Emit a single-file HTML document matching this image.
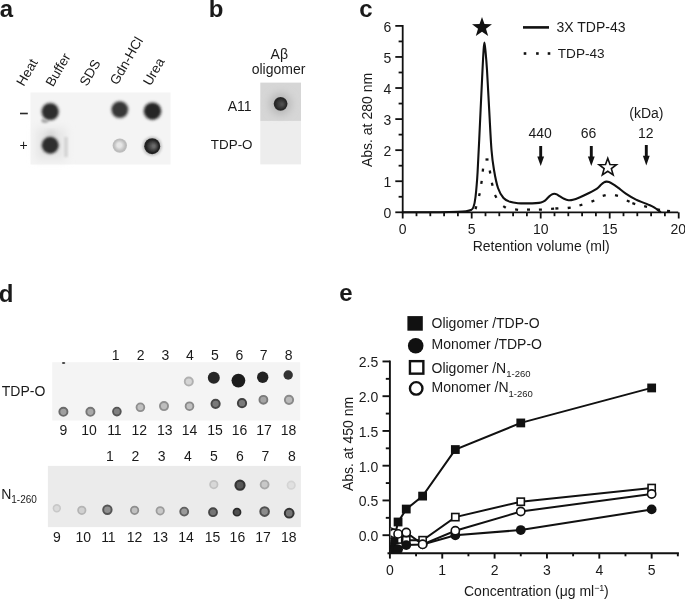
<!DOCTYPE html>
<html><head><meta charset="utf-8"><style>
html,body{margin:0;padding:0;background:#fff;width:685px;height:600px;overflow:hidden}
svg{display:block;will-change:transform}
text{font-family:"Liberation Sans",sans-serif;fill:#1a1a1a}
</style></head><body>
<svg width="685" height="600" viewBox="0 0 685 600">
<defs>
<radialGradient id="g0" cx="0.5" cy="0.5" r="0.5" fx="0.45" fy="0.45"><stop offset="0" stop-color="#e6e6e6"/><stop offset="0.3" stop-color="#e6e6e6"/><stop offset="0.8" stop-color="#bcbcbc"/><stop offset="1" stop-color="#bcbcbc"/></radialGradient>
<radialGradient id="g1" cx="0.5" cy="0.5" r="0.5" fx="0.62" fy="0.5"><stop offset="0" stop-color="#6a6a6a"/><stop offset="0.15" stop-color="#6a6a6a"/><stop offset="0.8" stop-color="#222222"/><stop offset="1" stop-color="#222222"/></radialGradient>
<radialGradient id="g2" cx="0.5" cy="0.5" r="0.5" fx="0.62" fy="0.55"><stop offset="0" stop-color="#505050"/><stop offset="0.1" stop-color="#505050"/><stop offset="0.8" stop-color="#282828"/><stop offset="1" stop-color="#282828"/></radialGradient>
<clipPath id="eclip"><rect x="390.6" y="300" width="300" height="253"/></clipPath>
<filter id="blur08" x="-50%" y="-50%" width="200%" height="200%"><feGaussianBlur stdDeviation="0.8"/></filter>
<filter id="blur06" x="-50%" y="-50%" width="200%" height="200%"><feGaussianBlur stdDeviation="0.6"/></filter>
<filter id="blur1" x="-50%" y="-50%" width="200%" height="200%"><feGaussianBlur stdDeviation="1.2"/></filter>
<filter id="blur2" x="-50%" y="-50%" width="200%" height="200%"><feGaussianBlur stdDeviation="2.5"/></filter>
<filter id="blur3" x="-50%" y="-50%" width="200%" height="200%"><feGaussianBlur stdDeviation="4"/></filter>
</defs>
<text x="-0.3" y="16.7" font-size="24" text-anchor="start" font-weight="bold" >a</text>
<text x="208.8" y="16.7" font-size="24" text-anchor="start" font-weight="bold" >b</text>
<text x="359.3" y="16.7" font-size="24" text-anchor="start" font-weight="bold" >c</text>
<text x="-1.2" y="301.8" font-size="24" text-anchor="start" font-weight="bold" >d</text>
<text x="339.3" y="301.4" font-size="24" text-anchor="start" font-weight="bold" >e</text>
<text x="0" y="0" font-size="13.5" transform="translate(23.8,87.0) rotate(-60)">Heat</text>
<text x="0" y="0" font-size="13.5" transform="translate(53.1,87.6) rotate(-60)">Buffer</text>
<text x="0" y="0" font-size="13.5" transform="translate(87.1,87.0) rotate(-60)">SDS</text>
<text x="0" y="0" font-size="13.5" transform="translate(117.2,85.8) rotate(-60)">Gdn-HCl</text>
<text x="0" y="0" font-size="13.5" transform="translate(150.4,86.6) rotate(-60)">Urea</text>
<rect x="30.5" y="92.5" width="140" height="72" fill="#f4f4f4"/>
<rect x="36" y="128" width="30" height="32" fill="#e6e6e6" filter="url(#blur3)"/>
<ellipse cx="45" cy="120.5" rx="3.6" ry="2.6" fill="#a8a8a8" filter="url(#blur1)"/>
<ellipse cx="51" cy="134" rx="5" ry="3" fill="#d4d4d4" filter="url(#blur2)"/>
<rect x="64.5" y="137" width="3" height="20" fill="#d0d0d0" filter="url(#blur1)"/>
<circle cx="50.2" cy="111.6" r="10.0" fill="#c4c4c4" filter="url(#blur1)"/>
<circle cx="50.2" cy="145.2" r="10.0" fill="#c4c4c4" filter="url(#blur1)"/>
<circle cx="119.8" cy="109.6" r="9.700000000000001" fill="#c4c4c4" filter="url(#blur1)"/>
<circle cx="152.5" cy="111.2" r="10.100000000000001" fill="#c4c4c4" filter="url(#blur1)"/>
<circle cx="152.2" cy="146.2" r="9.8" fill="#c4c4c4" filter="url(#blur1)"/>
<circle cx="50.2" cy="111.6" r="8.2" fill="#2e2e2e" filter="url(#blur08)"/>
<circle cx="50.2" cy="145.2" r="8.2" fill="#2e2e2e" filter="url(#blur08)"/>
<circle cx="119.8" cy="109.6" r="7.9" fill="#383838" filter="url(#blur08)"/>
<circle cx="152.5" cy="111.2" r="8.3" fill="#262626" filter="url(#blur08)"/>
<circle cx="119.8" cy="145.6" r="7.2" fill="url(#g0)" filter="url(#blur06)"/>
<circle cx="152.2" cy="146.2" r="8.0" fill="url(#g1)" filter="url(#blur06)"/>
<rect x="20" y="112.7" width="7.8" height="1.6" fill="#2a2a2a"/>
<text x="19.5" y="150" font-size="14" text-anchor="start" font-weight="normal" >+</text>
<text x="279.3" y="58.5" font-size="14" text-anchor="middle" font-weight="normal" >Aβ</text>
<text x="278.5" y="74" font-size="14" text-anchor="middle" font-weight="normal" >oligomer</text>
<rect x="260.3" y="82.6" width="40.7" height="38.5" fill="#d6d6d6"/>
<rect x="260.3" y="120.9" width="40.7" height="43.5" fill="#ededed"/>
<circle cx="280.5" cy="103.8" r="10.5" fill="#b4b4b4" filter="url(#blur3)"/>
<circle cx="280.6" cy="103.8" r="6.9" fill="url(#g2)" filter="url(#blur06)"/>
<text x="251.5" y="111" font-size="14" text-anchor="end" font-weight="normal" >A11</text>
<text x="252.5" y="148.6" font-size="13.4" text-anchor="end" font-weight="normal" >TDP-O</text>
<g stroke="#111" stroke-width="1.8" fill="none">
<line x1="402.7" y1="24.979999999999997" x2="402.7" y2="213.20000000000002"/>
<line x1="401.8" y1="212.3" x2="678.2199999999999" y2="212.3"/>
<line x1="395.3" y1="212.30" x2="402.7" y2="212.30"/>
<line x1="398.6" y1="196.77" x2="402.7" y2="196.77"/>
<line x1="395.3" y1="181.23" x2="402.7" y2="181.23"/>
<line x1="398.6" y1="165.69" x2="402.7" y2="165.69"/>
<line x1="395.3" y1="150.16" x2="402.7" y2="150.16"/>
<line x1="398.6" y1="134.62" x2="402.7" y2="134.62"/>
<line x1="395.3" y1="119.09" x2="402.7" y2="119.09"/>
<line x1="398.6" y1="103.56" x2="402.7" y2="103.56"/>
<line x1="395.3" y1="88.02" x2="402.7" y2="88.02"/>
<line x1="398.6" y1="72.49" x2="402.7" y2="72.49"/>
<line x1="395.3" y1="56.95" x2="402.7" y2="56.95"/>
<line x1="398.6" y1="41.42" x2="402.7" y2="41.42"/>
<line x1="395.3" y1="25.88" x2="402.7" y2="25.88"/>
<line x1="402.70" y1="212.3" x2="402.70" y2="218.5"/>
<line x1="416.50" y1="212.3" x2="416.50" y2="216.2"/>
<line x1="430.30" y1="212.3" x2="430.30" y2="216.2"/>
<line x1="444.10" y1="212.3" x2="444.10" y2="216.2"/>
<line x1="457.90" y1="212.3" x2="457.90" y2="216.2"/>
<line x1="471.70" y1="212.3" x2="471.70" y2="218.5"/>
<line x1="485.50" y1="212.3" x2="485.50" y2="216.2"/>
<line x1="499.30" y1="212.3" x2="499.30" y2="216.2"/>
<line x1="513.10" y1="212.3" x2="513.10" y2="216.2"/>
<line x1="526.90" y1="212.3" x2="526.90" y2="216.2"/>
<line x1="540.70" y1="212.3" x2="540.70" y2="218.5"/>
<line x1="554.50" y1="212.3" x2="554.50" y2="216.2"/>
<line x1="568.30" y1="212.3" x2="568.30" y2="216.2"/>
<line x1="582.10" y1="212.3" x2="582.10" y2="216.2"/>
<line x1="595.90" y1="212.3" x2="595.90" y2="216.2"/>
<line x1="609.70" y1="212.3" x2="609.70" y2="218.5"/>
<line x1="623.50" y1="212.3" x2="623.50" y2="216.2"/>
<line x1="637.30" y1="212.3" x2="637.30" y2="216.2"/>
<line x1="651.10" y1="212.3" x2="651.10" y2="216.2"/>
<line x1="664.90" y1="212.3" x2="664.90" y2="216.2"/>
<line x1="678.70" y1="212.3" x2="678.70" y2="218.5"/>
</g>
<text x="391.3" y="218.1" font-size="14" text-anchor="end" font-weight="normal" >0</text>
<text x="391.3" y="187.03" font-size="14" text-anchor="end" font-weight="normal" >1</text>
<text x="391.3" y="155.96" font-size="14" text-anchor="end" font-weight="normal" >2</text>
<text x="391.3" y="124.89" font-size="14" text-anchor="end" font-weight="normal" >3</text>
<text x="391.3" y="93.82" font-size="14" text-anchor="end" font-weight="normal" >4</text>
<text x="391.3" y="62.75" font-size="14" text-anchor="end" font-weight="normal" >5</text>
<text x="391.3" y="31.68" font-size="14" text-anchor="end" font-weight="normal" >6</text>
<text x="402.7" y="234" font-size="14" text-anchor="middle" font-weight="normal" >0</text>
<text x="471.7" y="234" font-size="14" text-anchor="middle" font-weight="normal" >5</text>
<text x="540.7" y="234" font-size="14" text-anchor="middle" font-weight="normal" >10</text>
<text x="609.7" y="234" font-size="14" text-anchor="middle" font-weight="normal" >15</text>
<text x="678.2" y="234" font-size="14" text-anchor="middle" font-weight="normal" >20</text>
<text x="541.2" y="251" font-size="14" text-anchor="middle" font-weight="normal" >Retention volume (ml)</text>
<text x="0" y="0" font-size="14" text-anchor="middle" transform="translate(372,120) rotate(-90)">Abs. at 280 nm</text>
<path d="M402.70,212.30 C408.92,212.28 430.87,212.28 440.00,212.20 C449.13,212.12 453.17,211.97 457.50,211.80 C461.83,211.63 463.75,211.50 466.00,211.20 C468.25,210.90 469.75,210.70 471.00,210.00 C472.25,209.30 472.75,209.17 473.50,207.00 C474.25,204.83 474.82,202.83 475.50,197.00 C476.18,191.17 476.75,186.50 477.60,172.00 C478.45,157.50 479.78,127.00 480.60,110.00 C481.42,93.00 482.00,80.00 482.50,70.00 C483.00,60.00 483.28,54.57 483.60,50.00 C483.92,45.43 484.10,42.60 484.40,42.60 C484.70,42.60 484.97,45.43 485.40,50.00 C485.83,54.57 486.37,60.00 487.00,70.00 C487.63,80.00 488.45,96.67 489.20,110.00 C489.95,123.33 490.70,140.00 491.50,150.00 C492.30,160.00 492.92,163.67 494.00,170.00 C495.08,176.33 496.42,183.33 498.00,188.00 C499.58,192.67 501.50,195.70 503.50,198.00 C505.50,200.30 507.58,200.93 510.00,201.80 C512.42,202.67 515.07,202.93 518.00,203.20 C520.93,203.47 524.60,203.42 527.60,203.40 C530.60,203.38 533.77,203.27 536.00,203.10 C538.23,202.93 539.50,202.82 541.00,202.40 C542.50,201.98 543.67,201.57 545.00,200.60 C546.33,199.63 547.83,197.63 549.00,196.60 C550.17,195.57 551.12,194.87 552.00,194.40 C552.88,193.93 553.50,193.80 554.30,193.80 C555.10,193.80 555.85,193.97 556.80,194.40 C557.75,194.83 558.80,195.67 560.00,196.40 C561.20,197.13 562.58,198.17 564.00,198.80 C565.42,199.43 567.00,200.03 568.50,200.20 C570.00,200.37 571.08,200.30 573.00,199.80 C574.92,199.30 577.33,198.33 580.00,197.20 C582.67,196.07 586.17,194.43 589.00,193.00 C591.83,191.57 595.00,189.97 597.00,188.60 C599.00,187.23 599.83,185.83 601.00,184.80 C602.17,183.77 603.10,182.93 604.00,182.40 C604.90,181.87 605.57,181.67 606.40,181.60 C607.23,181.53 607.98,181.63 609.00,182.00 C610.02,182.37 611.00,182.87 612.50,183.80 C614.00,184.73 615.78,185.97 618.00,187.60 C620.22,189.23 622.80,191.60 625.80,193.60 C628.80,195.60 632.25,197.77 636.00,199.60 C639.75,201.43 645.22,203.27 648.30,204.60 C651.38,205.93 652.42,206.32 654.50,207.60 C656.58,208.88 659.75,211.52 660.80,212.30" stroke="#111" stroke-width="2.1" fill="none"/>
<line x1="475.51" y1="209.15" x2="476.29" y2="206.25" stroke="#111" stroke-width="2.3"/>
<line x1="479.08" y1="196.06" x2="479.72" y2="193.14" stroke="#111" stroke-width="2.3"/>
<line x1="481.29" y1="183.88" x2="481.71" y2="180.92" stroke="#111" stroke-width="2.3"/>
<line x1="482.74" y1="171.59" x2="483.06" y2="168.61" stroke="#111" stroke-width="2.3"/>
<line x1="485.50" y1="159.50" x2="488.50" y2="159.50" stroke="#111" stroke-width="2.3"/>
<line x1="489.75" y1="170.52" x2="490.25" y2="173.48" stroke="#111" stroke-width="2.3"/>
<line x1="491.86" y1="182.74" x2="492.54" y2="185.66" stroke="#111" stroke-width="2.3"/>
<line x1="494.99" y1="195.08" x2="496.41" y2="197.72" stroke="#111" stroke-width="2.3"/>
<line x1="503.23" y1="206.10" x2="505.77" y2="207.70" stroke="#111" stroke-width="2.3"/>
<line x1="515.11" y1="209.43" x2="518.09" y2="209.77" stroke="#111" stroke-width="2.3"/>
<line x1="527.00" y1="209.60" x2="530.00" y2="209.60" stroke="#111" stroke-width="2.3"/>
<line x1="538.90" y1="209.65" x2="541.90" y2="209.55" stroke="#111" stroke-width="2.3"/>
<line x1="551.10" y1="208.91" x2="554.10" y2="208.69" stroke="#111" stroke-width="2.3"/>
<line x1="555.40" y1="208.49" x2="558.40" y2="208.31" stroke="#111" stroke-width="2.3"/>
<line x1="567.71" y1="208.00" x2="570.69" y2="207.60" stroke="#111" stroke-width="2.3"/>
<line x1="579.46" y1="205.51" x2="582.34" y2="204.69" stroke="#111" stroke-width="2.3"/>
<line x1="591.51" y1="201.67" x2="594.29" y2="200.53" stroke="#111" stroke-width="2.3"/>
<line x1="602.74" y1="195.85" x2="605.66" y2="195.15" stroke="#111" stroke-width="2.3"/>
<line x1="615.04" y1="195.16" x2="617.96" y2="195.84" stroke="#111" stroke-width="2.3"/>
<line x1="626.84" y1="200.46" x2="629.56" y2="201.74" stroke="#111" stroke-width="2.3"/>
<line x1="632.37" y1="203.16" x2="635.23" y2="204.04" stroke="#111" stroke-width="2.3"/>
<line x1="644.14" y1="206.14" x2="647.06" y2="206.86" stroke="#111" stroke-width="2.3"/>
<line x1="657.03" y1="209.41" x2="659.97" y2="209.99" stroke="#111" stroke-width="2.3"/>
<line x1="667.01" y1="210.81" x2="669.99" y2="211.19" stroke="#111" stroke-width="2.3"/>
<line x1="523" y1="27.4" x2="549" y2="27.4" stroke="#111" stroke-width="2.6"/>
<rect x="523.7" y="52.2" width="2.6" height="2.6" fill="#111"/>
<rect x="536.1" y="52.2" width="2.6" height="2.6" fill="#111"/>
<rect x="547.7" y="52.2" width="2.6" height="2.6" fill="#111"/>
<text x="556.5" y="31.5" font-size="14" text-anchor="start" font-weight="normal" >3X TDP-43</text>
<text x="557.8" y="57.5" font-size="13.6" text-anchor="start" font-weight="normal" >TDP-43</text>
<polygon points="482.00,17.00 484.47,24.10 491.99,24.26 485.99,28.80 488.17,35.99 482.00,31.70 475.83,35.99 478.01,28.80 472.01,24.26 479.53,24.10" fill="#111" />
<polygon points="607.75,158.30 609.98,164.43 616.50,164.66 611.36,168.67 613.16,174.94 607.75,171.30 602.34,174.94 604.14,168.67 599.00,164.66 605.52,164.43" fill="#fff" stroke="#111" stroke-width="1.6" stroke-linejoin="miter"/>
<rect x="539.25" y="146" width="2.9" height="12" fill="#111"/>
<polygon points="537.3000000000001,156.4 544.1,156.4 540.7,166" fill="#111"/>
<rect x="589.8499999999999" y="146" width="2.9" height="12" fill="#111"/>
<polygon points="587.9,156.4 594.6999999999999,156.4 591.3,166" fill="#111"/>
<rect x="644.8499999999999" y="145" width="2.9" height="12.400000000000006" fill="#111"/>
<polygon points="642.9,155.8 649.6999999999999,155.8 646.3,165.4" fill="#111"/>
<text x="540.2" y="137.5" font-size="14" text-anchor="middle" font-weight="normal" >440</text>
<text x="588.6" y="137.5" font-size="14" text-anchor="middle" font-weight="normal" >66</text>
<text x="645.8" y="137.5" font-size="14" text-anchor="middle" font-weight="normal" >12</text>
<text x="646.4" y="118.2" font-size="14" text-anchor="middle" font-weight="normal" >(kDa)</text>
<rect x="52.2" y="362.2" width="248" height="58.3" fill="#f4f4f4"/>
<text x="45.3" y="396.3" font-size="14" text-anchor="end" font-weight="normal" >TDP-O</text>
<text x="115.6" y="359.5" font-size="14" text-anchor="middle" font-weight="normal" >1</text>
<text x="140.6" y="359.5" font-size="14" text-anchor="middle" font-weight="normal" >2</text>
<text x="165.5" y="359.5" font-size="14" text-anchor="middle" font-weight="normal" >3</text>
<text x="190" y="359.5" font-size="14" text-anchor="middle" font-weight="normal" >4</text>
<text x="215" y="359.5" font-size="14" text-anchor="middle" font-weight="normal" >5</text>
<text x="239.5" y="359.5" font-size="14" text-anchor="middle" font-weight="normal" >6</text>
<text x="263.6" y="359.5" font-size="14" text-anchor="middle" font-weight="normal" >7</text>
<text x="288.6" y="359.5" font-size="14" text-anchor="middle" font-weight="normal" >8</text>
<text x="63.3" y="435" font-size="14" text-anchor="middle" font-weight="normal" >9</text>
<text x="89" y="435" font-size="14" text-anchor="middle" font-weight="normal" >10</text>
<text x="114.4" y="435" font-size="14" text-anchor="middle" font-weight="normal" >11</text>
<text x="139.3" y="435" font-size="14" text-anchor="middle" font-weight="normal" >12</text>
<text x="164.7" y="435" font-size="14" text-anchor="middle" font-weight="normal" >13</text>
<text x="189.6" y="435" font-size="14" text-anchor="middle" font-weight="normal" >14</text>
<text x="215" y="435" font-size="14" text-anchor="middle" font-weight="normal" >15</text>
<text x="239.5" y="435" font-size="14" text-anchor="middle" font-weight="normal" >16</text>
<text x="264" y="435" font-size="14" text-anchor="middle" font-weight="normal" >17</text>
<text x="288.6" y="435" font-size="14" text-anchor="middle" font-weight="normal" >18</text>
<circle cx="188.8" cy="381.5" r="4.05" fill="#d4d4d4" stroke="#b0b0b0" stroke-width="1.90" filter="url(#blur06)"/>
<ellipse cx="63.6" cy="363" rx="1.7" ry="0.9" fill="#444"/>
<circle cx="213.8" cy="377.7" r="6.0" fill="#262626" filter="url(#blur06)"/>
<circle cx="238.4" cy="380.6" r="6.9" fill="#1c1c1c" filter="url(#blur06)"/>
<circle cx="262.7" cy="377.3" r="5.7" fill="#242424" filter="url(#blur06)"/>
<circle cx="288.2" cy="375" r="4.7" fill="#333" filter="url(#blur06)"/>
<circle cx="63.4" cy="411.8" r="4.05" fill="#a0a0a0" stroke="#6a6a6a" stroke-width="1.90" filter="url(#blur06)"/>
<circle cx="90.4" cy="411.8" r="4.05" fill="#a8a8a8" stroke="#767676" stroke-width="1.90" filter="url(#blur06)"/>
<circle cx="116.9" cy="411.6" r="3.89" fill="#808080" stroke="#555555" stroke-width="1.82" filter="url(#blur06)"/>
<circle cx="140.4" cy="407.3" r="3.89" fill="#c0c0c0" stroke="#8e8e8e" stroke-width="1.82" filter="url(#blur06)"/>
<circle cx="164" cy="406.1" r="4.05" fill="#bebebe" stroke="#909090" stroke-width="1.90" filter="url(#blur06)"/>
<circle cx="189.5" cy="406.2" r="3.89" fill="#c0c0c0" stroke="#8a8a8a" stroke-width="1.82" filter="url(#blur06)"/>
<circle cx="215.6" cy="403.8" r="4.13" fill="#7a7a7a" stroke="#4a4a4a" stroke-width="1.94" filter="url(#blur06)"/>
<circle cx="242" cy="403.2" r="4.13" fill="#7a7a7a" stroke="#404040" stroke-width="1.94" filter="url(#blur06)"/>
<circle cx="263.4" cy="399.8" r="3.97" fill="#a4a4a4" stroke="#7a7a7a" stroke-width="1.86" filter="url(#blur06)"/>
<circle cx="289" cy="399.8" r="4.13" fill="#bababa" stroke="#8a8a8a" stroke-width="1.94" filter="url(#blur06)"/>
<rect x="47.9" y="465.9" width="253" height="61.2" fill="#ebebeb"/>
<text x="1.2" y="498.6" font-size="14">N<tspan font-size="10" dy="4.5">1-260</tspan></text>
<text x="109.8" y="461" font-size="14" text-anchor="middle" font-weight="normal" >1</text>
<text x="135.5" y="461" font-size="14" text-anchor="middle" font-weight="normal" >2</text>
<text x="161.7" y="461" font-size="14" text-anchor="middle" font-weight="normal" >3</text>
<text x="187.9" y="461" font-size="14" text-anchor="middle" font-weight="normal" >4</text>
<text x="214" y="461" font-size="14" text-anchor="middle" font-weight="normal" >5</text>
<text x="240" y="461" font-size="14" text-anchor="middle" font-weight="normal" >6</text>
<text x="265.4" y="461" font-size="14" text-anchor="middle" font-weight="normal" >7</text>
<text x="292" y="461" font-size="14" text-anchor="middle" font-weight="normal" >8</text>
<text x="57" y="542" font-size="14" text-anchor="middle" font-weight="normal" >9</text>
<text x="83.2" y="542" font-size="14" text-anchor="middle" font-weight="normal" >10</text>
<text x="108.4" y="542" font-size="14" text-anchor="middle" font-weight="normal" >11</text>
<text x="134.6" y="542" font-size="14" text-anchor="middle" font-weight="normal" >12</text>
<text x="160.3" y="542" font-size="14" text-anchor="middle" font-weight="normal" >13</text>
<text x="186" y="542" font-size="14" text-anchor="middle" font-weight="normal" >14</text>
<text x="212.6" y="542" font-size="14" text-anchor="middle" font-weight="normal" >15</text>
<text x="237.4" y="542" font-size="14" text-anchor="middle" font-weight="normal" >16</text>
<text x="263" y="542" font-size="14" text-anchor="middle" font-weight="normal" >17</text>
<text x="288.8" y="542" font-size="14" text-anchor="middle" font-weight="normal" >18</text>
<circle cx="213.8" cy="484.6" r="3.73" fill="#d8d8d8" stroke="#c2c2c2" stroke-width="1.75" filter="url(#blur06)"/>
<circle cx="240" cy="485.2" r="4.54" fill="#585858" stroke="#343434" stroke-width="2.13" filter="url(#blur06)"/>
<circle cx="264.6" cy="484.6" r="3.97" fill="#c8c8c8" stroke="#a8a8a8" stroke-width="1.86" filter="url(#blur06)"/>
<circle cx="291.2" cy="485.2" r="3.73" fill="#e0e0e0" stroke="#d4d4d4" stroke-width="1.75" filter="url(#blur06)"/>
<circle cx="56.8" cy="508.3" r="3.40" fill="#dadada" stroke="#c8c8c8" stroke-width="1.60" filter="url(#blur06)"/>
<circle cx="81.8" cy="510.3" r="3.73" fill="#d0d0d0" stroke="#b4b4b4" stroke-width="1.75" filter="url(#blur06)"/>
<circle cx="107.4" cy="509.7" r="4.21" fill="#909090" stroke="#555555" stroke-width="1.98" filter="url(#blur06)"/>
<circle cx="134.6" cy="510.3" r="3.73" fill="#c0c0c0" stroke="#8e8e8e" stroke-width="1.75" filter="url(#blur06)"/>
<circle cx="160.2" cy="510.8" r="3.73" fill="#c8c8c8" stroke="#9c9c9c" stroke-width="1.75" filter="url(#blur06)"/>
<circle cx="184.2" cy="511.6" r="3.97" fill="#9a9a9a" stroke="#606060" stroke-width="1.86" filter="url(#blur06)"/>
<circle cx="213" cy="512.2" r="3.97" fill="#747474" stroke="#444444" stroke-width="1.86" filter="url(#blur06)"/>
<circle cx="237" cy="512.2" r="3.56" fill="#505050" stroke="#2c2c2c" stroke-width="1.67" filter="url(#blur06)"/>
<circle cx="264.6" cy="511.6" r="4.29" fill="#8c8c8c" stroke="#505050" stroke-width="2.01" filter="url(#blur06)"/>
<circle cx="289.2" cy="513.2" r="4.37" fill="#747474" stroke="#343434" stroke-width="2.05" filter="url(#blur06)"/>
<g stroke="#111" stroke-width="1.9" fill="none">
<line x1="389.9" y1="360.55000000000007" x2="389.9" y2="553.3"/>
<line x1="387.5" y1="553.3" x2="678.9" y2="553.3"/>
<line x1="382.5" y1="535.20" x2="389.9" y2="535.20"/>
<line x1="385.8" y1="517.83" x2="389.9" y2="517.83"/>
<line x1="382.5" y1="500.45" x2="389.9" y2="500.45"/>
<line x1="385.8" y1="483.08" x2="389.9" y2="483.08"/>
<line x1="382.5" y1="465.70" x2="389.9" y2="465.70"/>
<line x1="385.8" y1="448.33" x2="389.9" y2="448.33"/>
<line x1="382.5" y1="430.95" x2="389.9" y2="430.95"/>
<line x1="385.8" y1="413.58" x2="389.9" y2="413.58"/>
<line x1="382.5" y1="396.20" x2="389.9" y2="396.20"/>
<line x1="385.8" y1="378.83" x2="389.9" y2="378.83"/>
<line x1="382.5" y1="361.45" x2="389.9" y2="361.45"/>
<line x1="389.90" y1="553.3" x2="389.90" y2="558.6"/>
<line x1="416.07" y1="553.3" x2="416.07" y2="556.3"/>
<line x1="442.25" y1="553.3" x2="442.25" y2="558.6"/>
<line x1="468.42" y1="553.3" x2="468.42" y2="556.3"/>
<line x1="494.60" y1="553.3" x2="494.60" y2="558.6"/>
<line x1="520.77" y1="553.3" x2="520.77" y2="556.3"/>
<line x1="546.95" y1="553.3" x2="546.95" y2="558.6"/>
<line x1="573.12" y1="553.3" x2="573.12" y2="556.3"/>
<line x1="599.30" y1="553.3" x2="599.30" y2="558.6"/>
<line x1="625.48" y1="553.3" x2="625.48" y2="556.3"/>
<line x1="651.65" y1="553.3" x2="651.65" y2="558.6"/>
<line x1="677.83" y1="553.3" x2="677.83" y2="556.3"/>
</g>
<text x="378.3" y="541.1" font-size="14" text-anchor="end" font-weight="normal" >0.0</text>
<text x="378.3" y="506.35" font-size="14" text-anchor="end" font-weight="normal" >0.5</text>
<text x="378.3" y="471.6" font-size="14" text-anchor="end" font-weight="normal" >1.0</text>
<text x="378.3" y="436.85" font-size="14" text-anchor="end" font-weight="normal" >1.5</text>
<text x="378.3" y="402.1" font-size="14" text-anchor="end" font-weight="normal" >2.0</text>
<text x="378.3" y="367.35" font-size="14" text-anchor="end" font-weight="normal" >2.5</text>
<text x="389.9" y="575" font-size="14" text-anchor="middle" font-weight="normal" >0</text>
<text x="442.25" y="575" font-size="14" text-anchor="middle" font-weight="normal" >1</text>
<text x="494.6" y="575" font-size="14" text-anchor="middle" font-weight="normal" >2</text>
<text x="546.95" y="575" font-size="14" text-anchor="middle" font-weight="normal" >3</text>
<text x="599.3" y="575" font-size="14" text-anchor="middle" font-weight="normal" >4</text>
<text x="651.65" y="575" font-size="14" text-anchor="middle" font-weight="normal" >5</text>
<text x="464" y="595.5" font-size="14">Concentration (μg ml<tspan font-size="9" dy="-5" letter-spacing="-0.3">−1</tspan><tspan dy="5">)</tspan></text>
<text x="0" y="0" font-size="14" text-anchor="middle" transform="translate(353,444) rotate(-90)">Abs. at 450 nm</text>
<g clip-path="url(#eclip)">
<polyline points="389.9,547.9 391.9,550.0 394.0,550.7 398.1,549.3 406.3,545.1 422.6,544.4 455.3,535.3 520.8,530.0 651.6,509.4" fill="none" stroke="#111" stroke-width="2"/>
<polyline points="389.9,531.8 391.9,533.9 394.0,533.2 398.1,533.9 406.3,532.5 422.6,544.4 455.3,530.8 520.8,511.5 651.6,494.0" fill="none" stroke="#111" stroke-width="2"/>
<polyline points="389.9,538.1 391.9,541.6 394.0,540.2 398.1,539.5 406.3,540.2 422.6,540.2 455.3,517.1 520.8,501.7 651.6,488.1" fill="none" stroke="#111" stroke-width="2"/>
<polyline points="389.9,546.5 391.9,544.4 394.0,539.5 398.1,522.0 406.3,509.1 422.6,496.1 455.3,449.6 520.8,422.9 651.6,387.9" fill="none" stroke="#111" stroke-width="2"/>
<rect x="386.30" y="534.50" width="7.200000000000001" height="7.200000000000001" fill="#fff" stroke="#111" stroke-width="1.6"/>
<rect x="388.34" y="538.00" width="7.200000000000001" height="7.200000000000001" fill="#fff" stroke="#111" stroke-width="1.6"/>
<rect x="390.38" y="536.60" width="7.200000000000001" height="7.200000000000001" fill="#fff" stroke="#111" stroke-width="1.6"/>
<rect x="394.47" y="535.90" width="7.200000000000001" height="7.200000000000001" fill="#fff" stroke="#111" stroke-width="1.6"/>
<rect x="402.66" y="536.60" width="7.200000000000001" height="7.200000000000001" fill="#fff" stroke="#111" stroke-width="1.6"/>
<rect x="419.02" y="536.60" width="7.200000000000001" height="7.200000000000001" fill="#fff" stroke="#111" stroke-width="1.6"/>
<rect x="451.74" y="513.50" width="7.200000000000001" height="7.200000000000001" fill="#fff" stroke="#111" stroke-width="1.6"/>
<rect x="517.17" y="498.10" width="7.200000000000001" height="7.200000000000001" fill="#fff" stroke="#111" stroke-width="1.6"/>
<rect x="648.05" y="484.45" width="7.200000000000001" height="7.200000000000001" fill="#fff" stroke="#111" stroke-width="1.6"/>
<rect x="385.50" y="542.10" width="8.8" height="8.8" fill="#111"/>
<rect x="387.54" y="540.00" width="8.8" height="8.8" fill="#111"/>
<rect x="389.58" y="535.10" width="8.8" height="8.8" fill="#111"/>
<rect x="393.67" y="517.60" width="8.8" height="8.8" fill="#111"/>
<rect x="401.86" y="504.65" width="8.8" height="8.8" fill="#111"/>
<rect x="418.22" y="491.70" width="8.8" height="8.8" fill="#111"/>
<rect x="450.94" y="445.15" width="8.8" height="8.8" fill="#111"/>
<rect x="516.38" y="418.55" width="8.8" height="8.8" fill="#111"/>
<rect x="647.25" y="383.55" width="8.8" height="8.8" fill="#111"/>
<circle cx="389.90" cy="547.90" r="4.9" fill="#111"/>
<circle cx="391.94" cy="550.00" r="4.9" fill="#111"/>
<circle cx="393.98" cy="550.70" r="4.9" fill="#111"/>
<circle cx="398.07" cy="549.30" r="4.9" fill="#111"/>
<circle cx="406.26" cy="545.10" r="4.9" fill="#111"/>
<circle cx="422.62" cy="544.40" r="4.9" fill="#111"/>
<circle cx="455.34" cy="535.30" r="4.9" fill="#111"/>
<circle cx="520.77" cy="530.05" r="4.9" fill="#111"/>
<circle cx="651.65" cy="509.40" r="4.9" fill="#111"/>
<circle cx="389.90" cy="531.80" r="4.1000000000000005" fill="#fff" stroke="#111" stroke-width="1.6"/>
<circle cx="391.94" cy="533.90" r="4.1000000000000005" fill="#fff" stroke="#111" stroke-width="1.6"/>
<circle cx="393.98" cy="533.20" r="4.1000000000000005" fill="#fff" stroke="#111" stroke-width="1.6"/>
<circle cx="398.07" cy="533.90" r="4.1000000000000005" fill="#fff" stroke="#111" stroke-width="1.6"/>
<circle cx="406.26" cy="532.50" r="4.1000000000000005" fill="#fff" stroke="#111" stroke-width="1.6"/>
<circle cx="422.62" cy="544.40" r="4.1000000000000005" fill="#fff" stroke="#111" stroke-width="1.6"/>
<circle cx="455.34" cy="530.75" r="4.1000000000000005" fill="#fff" stroke="#111" stroke-width="1.6"/>
<circle cx="520.77" cy="511.50" r="4.1000000000000005" fill="#fff" stroke="#111" stroke-width="1.6"/>
<circle cx="651.65" cy="494.00" r="4.1000000000000005" fill="#fff" stroke="#111" stroke-width="1.6"/>
</g>
<rect x="407.4" y="316.1" width="15.4" height="14.6" fill="#111"/>
<circle cx="415.7" cy="345.7" r="7.8" fill="#111"/>
<rect x="409.95" y="361.15" width="13.4" height="12.5" fill="#fff" stroke="#111" stroke-width="2.4"/>
<circle cx="416.2" cy="388.4" r="6.25" fill="#fff" stroke="#111" stroke-width="2.4"/>
<text x="431.5" y="328.4" font-size="14" text-anchor="start" font-weight="normal" >Oligomer /TDP-O</text>
<text x="431.5" y="348.9" font-size="14" text-anchor="start" font-weight="normal" >Monomer /TDP-O</text>
<text x="431.5" y="372.5" font-size="14">Oligomer /N<tspan font-size="9.5" dy="4.3">1-260</tspan></text>
<text x="431.5" y="392.3" font-size="14">Monomer /N<tspan font-size="9.5" dy="4.3">1-260</tspan></text>
</svg>
</body></html>
